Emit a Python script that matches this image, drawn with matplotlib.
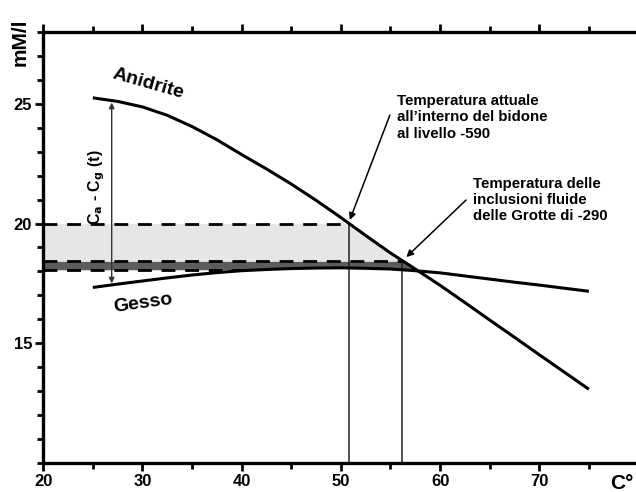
import numpy as np
import matplotlib.pyplot as plt
from matplotlib.ticker import MultipleLocator

plt.rcParams['font.family'] = ['Liberation Sans', 'DejaVu Sans']
plt.rcParams['font.weight'] = 'bold'

# temperature (C) and solubility (mM/l)
temp = [25, 27.5, 30, 32.5, 35, 37.5, 40, 42.5, 45, 47.5, 50, 52.5, 55,
        57.5, 60, 62.5, 65, 67.5, 70, 72.5, 75]
anidrite = [25.25, 25.1, 24.87, 24.52, 24.05, 23.5, 22.88, 22.28, 21.65, 20.97, 20.25,
            19.5, 18.77, 18.1, 17.42, 16.7, 15.97, 15.25, 14.52, 13.8, 13.08]
gesso = [17.33, 17.47, 17.6, 17.73, 17.85, 17.95, 18.03, 18.08, 18.12, 18.14, 18.15,
         18.13, 18.1, 18.03, 17.94, 17.81, 17.68, 17.55, 17.43, 17.3, 17.17]

# reference levels
conc_now = 20.0      # present day level
conc_incl = 18.42    # fluid inclusions
conc_low = 18.07
t_now = 50.8
t_incl = 56.2

fig = plt.figure(figsize=(6.36, 4.92), dpi=100)
ax = fig.add_axes([0.068, 0.059, 0.932, 0.876])
ax.set_xlim(20, 79.75)
ax.set_ylim(10, 28)

# shaded bands
xs = np.linspace(20, 62, 600)
an = np.interp(xs, temp, anidrite)
gs = np.interp(xs, temp, gesso)
top_light = np.minimum(an, conc_now)
ax.fill_between(xs, conc_incl, top_light, where=top_light > conc_incl,
                color='#e6e6e6', lw=0, zorder=1)
low_dark = np.maximum(gs, conc_low)
top_dark = np.minimum(an, conc_incl)
ax.fill_between(xs, low_dark, top_dark, where=top_dark > low_dark,
                color='#5c5c5c', lw=0, zorder=1)

# dashed levels
dash = (0, (5, 3.5))
ax.plot([20, t_now], [conc_now, conc_now], color='black', lw=2, ls=dash, zorder=2)
ax.plot([20, t_incl], [conc_incl, conc_incl], color='black', lw=2, ls=dash, zorder=2)
ax.plot([20, 40], [conc_low, conc_low], color='black', lw=2, ls=dash, zorder=2)

# vertical temperature markers
ax.plot([t_now, t_now], [10, conc_now], color='#222222', lw=1.1, zorder=2)
ax.plot([t_incl, t_incl], [10, conc_incl], color='#222222', lw=1.1, zorder=2)

# curves
ax.plot(temp, anidrite, color='black', lw=2.2, solid_capstyle='butt', zorder=3)
ax.plot(temp, gesso, color='black', lw=2.2, solid_capstyle='butt', zorder=3)

# Ca - Cg double arrow
ax.annotate('', xy=(26.9, 25.05), xytext=(26.9, 17.5),
            arrowprops=dict(arrowstyle='<|-|>', color='#333333', lw=1.0,
                            mutation_scale=8, shrinkA=0, shrinkB=0))
ax.text(25.4, 21.5, r'C$_\mathbf{a}$ - C$_\mathbf{g}$ (t)', rotation=90,
        ha='center', va='center', fontsize=11.5, fontweight='bold')

ax.text(30.6, 25.85, 'Anidrite', rotation=-16, ha='center', va='center',
        fontsize=14, fontweight='bold')
ax.text(30.1, 16.65, 'Gesso', rotation=8, ha='center', va='center',
        fontsize=14, fontweight='bold')

# annotations
ax.annotate('Temperatura attuale\nall\u2019interno del bidone\nal livello -590',
            xy=(50.9, 20.15), xytext=(55.7, 25.4),
            ha='left', va='top', fontsize=10.8, fontweight='bold', linespacing=1.2,
            arrowprops=dict(arrowstyle='-|>', color='black', lw=1.1,
                            mutation_scale=10, shrinkA=0, shrinkB=0,
                            relpos=(-0.05, 0.55)))
ax.annotate('Temperatura delle\ninclusioni fluide\ndelle Grotte di -290',
            xy=(56.6, 18.6), xytext=(63.3, 21.95),
            ha='left', va='top', fontsize=10.8, fontweight='bold', linespacing=1.2,
            arrowprops=dict(arrowstyle='-|>', color='black', lw=1.1,
                            mutation_scale=10, shrinkA=0, shrinkB=0,
                            relpos=(-0.05, 0.5)))

# axes styling
for s in ['left', 'bottom', 'top']:
    ax.spines[s].set_linewidth(2.4)
ax.spines['right'].set_visible(False)
ax.set_xticks([20, 30, 40, 50, 60, 70])
ax.set_yticks([15, 20, 25])
ax.xaxis.set_minor_locator(MultipleLocator(5))
ax.yaxis.set_minor_locator(MultipleLocator(1))
ax.tick_params(axis='x', which='both', top=True, direction='out', width=2,
               labelsize=12, pad=2)
ax.tick_params(axis='y', which='both', direction='out', width=2, labelsize=12, pad=2)
ax.tick_params(which='major', length=6)
ax.tick_params(which='minor', length=4)
for lab in ax.get_xticklabels() + ax.get_yticklabels():
    lab.set_fontweight('bold')

fig.text(0.032, 0.915, 'mM/l', rotation=90, ha='center', va='center',
         fontsize=15, fontweight='bold')
fig.text(0.978, 0.018, 'C\u00b0', ha='center', va='center',
         fontsize=15, fontweight='bold')

plt.savefig('out.png', dpi=100)
